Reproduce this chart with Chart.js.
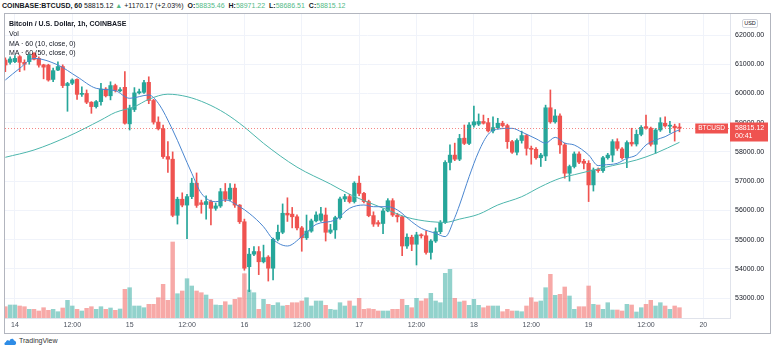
<!DOCTYPE html>
<html>
<head>
<meta charset="utf-8">
<script src="https://cdn.jsdelivr.net/npm/chart.js@4.4.1/dist/chart.umd.min.js"></script>
<style>
  html, body { margin: 0; padding: 0; background: #fff; }
  body { width: 775px; height: 353px; position: relative; overflow: hidden;
         font-family: 'Liberation Sans', Arial, sans-serif; color: #131722; }
  #header { position: absolute; left: 2px; top: 1px; font-size: 7px; line-height: 10px; white-space: nowrap; }
  #header .g { color: #53b987; }
  #header span { margin-right: 2px; }
  #frame { position: absolute; left: 4px; top: 13px; width: 765px; height: 319px; border: 1px solid #b2b5be; }
  #chart { position: absolute; left: 0; top: 0; }
  #legend { position: absolute; left: 4px; top: 5px; font-size: 7px; line-height: 9.8px; white-space: nowrap; pointer-events: none; }
  #usd { position: absolute; left: 737px; top: 5px; width: 14px; height: 7px; border: 1px solid #d1d4dc; border-radius: 2px;
         font-size: 5.5px; line-height: 7px; text-align: center; color: #131722; background: #fff; }
  #brand { position: absolute; left: 4px; top: 336px; font-size: 7px; line-height: 10px; color: #333; display: flex; align-items: center; }
  #brand svg { margin-right: 2px; }
</style>
</head>
<body>
<div id="header">
  <b>COINBASE:BTCUSD, 60</b>
  <span>58815.12</span><span class="g">▲</span><span>+1170.17 (+2.03%)</span>
  <b>O:</b><span class="g">58835.46</span>
  <b>H:</b><span class="g">58971.22</span>
  <b>L:</b><span class="g">58686.51</span>
  <b>C:</b><span class="g">58815.12</span>
</div>

<div id="frame">
  <canvas id="chart" width="765" height="319"></canvas>
  <div id="legend">
    <div><b>Bitcoin / U.S. Dollar, 1h, COINBASE</b></div>
    <div>Vol</div>
    <div>MA · 60 (10, close, 0)</div>
    <div>MA · 60 (50, close, 0)</div>
  </div>
  <div id="usd">USD</div>
</div>

<div id="brand">
  <svg width="13" height="9" viewBox="0 0 26 18"><path d="M3 16 C0 16 0 11 4 10 C4 6 9 5 11 8 C12 3 19 2 20 7 C25 7 26 16 21 16 Z" fill="#2e8ce6"/></svg>
  TradingView
</div>

<script>
// hourly candles, hour 0 = 14th 00:00
const firstHour = -2;

const opens = [
  61145, 61065, 61090, 61260, 61065, 61090, 61370, 61200, 60980, 60970,
  60480, 60800, 60920, 60270, 60350, 60480, 59970, 60000, 59700, 59550,
  59720, 60150, 59920, 60270, 60090, 60210, 58960, 59450, 60020, 60040,
  60380, 59760, 59020, 58790, 57840, 57750, 55830, 56380, 56180, 56470,
  56930, 56260, 56200, 56300, 56070, 56150, 56640, 56380, 56760, 56180,
  55610, 54070, 54500, 54590, 54240, 54400, 54020, 55010, 55250, 55900,
  55870, 55780, 55400, 55060, 55290, 55640, 55660, 55840, 55250, 55330,
  55750, 56390, 56470, 56300, 56930, 56580, 56300, 55820, 55580, 55550,
  55980, 56330, 55840, 55780, 54780, 55080, 54840, 55160, 55130, 54560,
  54950, 55270, 55580, 57640, 57890, 57750, 58470, 58290, 58920, 58950,
  59040, 59000, 58720, 58830, 58980, 58900, 58350, 57990, 58390, 58560,
  58120, 58090, 57800, 57860, 59510, 59030, 59230, 58240, 57270, 57500,
  57930, 57680, 57610, 56870, 57400, 57360, 57800, 57890, 58350, 58100,
  57800, 58330, 58270, 58600, 58860, 58810, 58260, 58750, 58980, 58880,
  58880, 58835.46
];
const highs = [
  61220, 61250, 61300, 61300, 61150, 61350, 61400, 61250, 61000, 61000,
  60870, 61080, 60980, 60380, 60500, 60500, 60230, 60120, 59720, 59760,
  60350, 60200, 60400, 60320, 60200, 60745, 59600, 60200, 60150, 60450,
  60570, 59800, 59200, 58920, 58350, 58000, 56450, 56600, 56550, 57100,
  57280, 56350, 56500, 56350, 56250, 56750, 56920, 56920, 56900, 56200,
  55700, 54700, 54760, 54760, 54810, 54450, 55050, 55500, 56220, 56430,
  56100, 55850, 55450, 55840, 55700, 55950, 56100, 56080, 55520, 55800,
  56450, 56550, 56550, 56980, 57170, 56620, 56350, 55950, 55650, 56050,
  56400, 56400, 55900, 55800, 55200, 55150, 55250, 55200, 55300, 55000,
  55400, 55650, 57700, 58240, 58300, 58600, 58920, 59000, 59570, 59300,
  59260, 59150, 59200, 59150, 59050, 58950, 58400, 58450, 58710, 58600,
  58200, 58150, 57950, 59600, 60120, 59450, 59300, 58300, 57550, 58000,
  58000, 57750, 57700, 57450, 57450, 57850, 57950, 58420, 58450, 58150,
  58380, 58810, 58750, 58900, 59260, 58850, 58800, 59170, 59200, 59050,
  58950, 58971.22
];
const lows = [
  60745, 61000, 61050, 60745, 60800, 61000, 61150, 60900, 60500, 60420,
  60400, 60780, 60200, 59390, 60300, 59800, 59900, 59650, 59320, 59500,
  59600, 59880, 59780, 60050, 60050, 58950, 58750, 59380, 59980, 60000,
  59650, 58950, 58750, 57780, 57300, 55780, 55530, 56120, 55030, 56400,
  56100, 55900, 55700, 55500, 56000, 56100, 56300, 56330, 56100, 55550,
  53950, 53220, 54450, 53800, 54200, 53580, 53620, 54950, 55200, 55620,
  55400, 55330, 54600, 55000, 55250, 55600, 55620, 54950, 55200, 55040,
  55700, 56300, 56250, 56250, 56500, 56250, 55780, 55450, 55450, 55200,
  55950, 55790, 55600, 54450, 54700, 54620, 54130, 55050, 54500, 54330,
  54900, 55200, 55550, 57380, 57700, 57700, 58250, 58250, 58850, 58900,
  58950, 58680, 58650, 58780, 58850, 58120, 57950, 57900, 58300, 57890,
  57580, 57750, 57500, 57700, 58980, 58980, 57950, 57100, 57000, 57450,
  57600, 57420, 56300, 56660, 57300, 57300, 57750, 57660, 58050, 57750,
  57460, 58200, 58200, 58550, 58780, 58200, 57950, 58700, 58850, 58650,
  58370, 58686.51
];
const closes = [
  60973, 61180, 61200, 61065, 61000, 61300, 61170, 60970, 60900, 60460,
  60780, 60920, 60270, 60340, 60460, 59970, 60000, 59700, 59550, 59720,
  60150, 59920, 60270, 60100, 60130, 58980, 59500, 60020, 60060, 60370,
  59760, 59020, 58790, 57840, 57750, 55830, 56380, 56180, 56470, 56930,
  56170, 56200, 56300, 56070, 56150, 56640, 56380, 56760, 56180, 55610,
  54020, 54500, 54590, 54240, 54380, 54020, 55010, 55250, 55900, 55840,
  55780, 55400, 55060, 55290, 55640, 55840, 55880, 55250, 55330, 55750,
  56390, 56470, 56300, 56930, 56580, 56300, 55820, 55530, 55530, 55980,
  56330, 55840, 55780, 54780, 55080, 54840, 55160, 55130, 54560, 54950,
  55270, 55580, 57640, 57890, 57750, 58460, 58290, 58920, 59030, 59040,
  58980, 58720, 58830, 58980, 58900, 58350, 57990, 58390, 58560, 58120,
  58090, 57800, 57890, 59510, 59030, 59230, 58240, 57270, 57500, 57930,
  57650, 57610, 56870, 57380, 57360, 57800, 57890, 58350, 58120, 57800,
  58320, 58270, 58600, 58840, 58830, 58260, 58750, 59000, 58890, 58900,
  58820, 58815.12
];
const volumes = [
  565, 650, 650, 600, 565, 435, 435, 350, 515, 385,
  435, 315, 500, 885, 600, 435, 350, 485, 565, 435,
  565, 435, 500, 385, 450, 1435, 1515, 600, 600, 515,
  685, 685, 1015, 1685, 885, 3800, 1215, 1350, 1965, 1600,
  1350, 1265, 1150, 935, 650, 635, 815, 650, 935, 1015,
  2215, 1400, 1265, 435, 935, 685, 635, 765, 600, 635,
  765, 765, 850, 1015, 600, 850, 850, 635, 435, 400,
  765, 600, 850, 600, 985, 435, 465, 435, 350, 350,
  350, 435, 435, 935, 635, 515, 985, 850, 965, 1235,
  850, 765, 2235, 2435, 985, 800, 850, 635, 935, 635,
  515, 600, 600, 600, 315, 435, 350, 350, 315, 600,
  1015, 800, 850, 1515, 2185, 1135, 1185, 1550, 1100, 435,
  565, 565, 1600, 685, 650, 435, 765, 400, 400, 350,
  685, 650, 300, 515, 685, 885, 600, 765, 600, 435,
  600, 515
];

// moving averages
const ma10Hours = [-2, 1, 4, 9, 13, 17, 21, 24, 28, 30, 33, 37, 39, 42, 44, 47, 49, 52, 54, 57,
  60, 63, 67, 70, 73, 75, 78, 80, 83, 85, 88, 90, 92, 93, 95, 97, 99, 101, 104, 106,
  109, 111, 113, 115, 117, 120, 122, 123, 126, 128, 130, 132, 134, 136, 138, 139];
const ma10Values = [60460, 60860, 61200, 60973, 60573, 60176, 60095, 59834, 59947, 59663, 58749, 57268, 56583, 56296, 56354, 56125, 55900, 55440, 55009, 54780,
  55100, 55520, 55669, 56070, 56183, 56125, 56125, 56012, 55612, 55385, 55214, 55100, 55750, 56183, 57150, 58008, 58603, 58783, 58807, 58680,
  58450, 58300, 58500, 58300, 58236, 57894, 57530, 57551, 57610, 57780, 57894, 58236, 58407, 58520, 58692, 58750];
const ma50Hours = [-2, 4, 11, 18, 21, 25, 28, 32, 36, 40, 44, 48, 52, 59, 66, 70, 78, 82, 87, 90,
  93, 97, 101, 106, 110, 114, 117, 121, 125, 130, 134, 139];
const ma50Values = [57815, 58065, 58520, 59090, 59350, 59547, 59800, 59975, 59890, 59663, 59320, 58850, 58294, 57480, 56900, 56550, 56012, 55760, 55612, 55590,
  55700, 55866, 56183, 56467, 56810, 57096, 57220, 57380, 57530, 57722, 57952, 58328];

const priceTicks = [53000, 54000, 55000, 56000, 57000, 58000, 59000, 60000, 61000, 62000];
const timeTickHours = [0, 12, 24, 36, 48, 60, 72, 84, 96, 108, 120, 132, 144];
const timeTickLabels = ['14', '12:00', '15', '12:00', '16', '12:00', '17', '12:00', '18', '12:00', '19', '12:00', '20'];
const countdown = '00:41';

const upColor = '#26a69a';
const downColor = '#ef5350';

const hours = opens.map((_, i) => firstHour + i);
const isUp = closes.map((c, i) => c >= opens[i]);
const candleColors = isUp.map(u => u ? upColor : downColor);
const volColors = isUp.map(u => u ? 'rgba(38,166,154,0.5)' : 'rgba(239,83,80,0.5)');

Chart.defaults.font.family = "'Liberation Sans', Arial, sans-serif";

const lastPricePlugin = {
    id: 'lastPrice',
    afterDatasetsDraw(chart) {
        const { ctx, chartArea } = chart;
        const y = chart.scales.y;
        const price = closes[closes.length - 1];
        const py = Math.round(y.getPixelForValue(price)) + 0.5;
        ctx.save();
        // dotted price line
        ctx.strokeStyle = 'rgba(239,83,80,0.7)';
        ctx.lineWidth = 1;
        ctx.setLineDash([1, 2]);
        ctx.beginPath();
        ctx.moveTo(chartArea.left, py);
        ctx.lineTo(chartArea.right, py);
        ctx.stroke();
        ctx.setLineDash([]);
        // price box on the scale
        ctx.fillStyle = downColor;
        ctx.fillRect(chartArea.right, py - 6, 38, 19);
        ctx.fillStyle = '#fff';
        ctx.font = "7px 'Liberation Sans', Arial, sans-serif";
        ctx.textBaseline = 'middle';
        ctx.textAlign = 'left';
        ctx.fillText(price.toFixed(2), chartArea.right + 5, py);
        ctx.fillText(countdown, chartArea.right + 5, py + 8);
        // symbol tag
        ctx.font = "6.5px 'Liberation Sans', Arial, sans-serif";
        const tw = ctx.measureText('BTCUSD').width + 6;
        ctx.fillStyle = downColor;
        ctx.fillRect(chartArea.right - 2 - tw, py - 5, tw, 10);
        ctx.fillStyle = '#fff';
        ctx.fillText('BTCUSD', chartArea.right - 2 - tw + 3, py);
        ctx.restore();
    }
};

const ctx = document.getElementById('chart').getContext('2d');
new Chart(ctx, {
    type: 'bar',
    data: {
        datasets: [
            {
                type: 'line',
                label: 'MA 10',
                data: ma10Hours.map((h, i) => ({ x: h, y: ma10Values[i] })),
                borderColor: '#4a86d0',
                borderWidth: 1,
                pointRadius: 0,
                cubicInterpolationMode: 'monotone',
                yAxisID: 'y',
                order: 0
            },
            {
                type: 'line',
                label: 'MA 50',
                data: ma50Hours.map((h, i) => ({ x: h, y: ma50Values[i] })),
                borderColor: '#4db6ac',
                borderWidth: 1,
                pointRadius: 0,
                cubicInterpolationMode: 'monotone',
                yAxisID: 'y',
                order: 0
            },
            {
                label: 'Body',
                data: hours.map((h, i) => ({ x: h, y: [opens[i], closes[i]] })),
                backgroundColor: candleColors,
                barThickness: 3.6,
                minBarLength: 1,
                grouped: false,
                yAxisID: 'y',
                order: 1
            },
            {
                label: 'Wick',
                data: hours.map((h, i) => ({ x: h, y: [lows[i], highs[i]] })),
                backgroundColor: candleColors,
                barThickness: 1,
                grouped: false,
                yAxisID: 'y',
                order: 2
            },
            {
                label: 'Vol',
                data: hours.map((h, i) => ({ x: h, y: volumes[i] })),
                backgroundColor: volColors,
                barThickness: 3.8,
                grouped: false,
                yAxisID: 'vol',
                order: 3
            }
        ]
    },
    options: {
        responsive: false,
        animation: false,
        events: [],
        layout: { padding: 0 },
        plugins: {
            legend: { display: false },
            tooltip: { enabled: false }
        },
        scales: {
            x: {
                type: 'linear',
                min: -2.07,
                max: 149.57,
                offset: false,
                grid: { color: '#f0f3fa', offset: false, drawTicks: false },
                border: { color: '#e0e3eb' },
                ticks: {
                    autoSkip: false,
                    maxRotation: 0,
                    padding: 3,
                    color: '#4c525e',
                    font: { size: 7 },
                    callback: (v, i) => timeTickLabels[i]
                },
                afterBuildTicks: s => { s.ticks = timeTickHours.map(v => ({ value: v })); },
                afterFit: s => { s.height = 15; s.paddingLeft = 0; s.paddingRight = 0; }
            },
            y: {
                type: 'linear',
                position: 'right',
                min: 52316,
                max: 62719,
                grid: { color: '#f0f3fa', drawTicks: false },
                border: { color: '#e0e3eb' },
                ticks: {
                    padding: 5,
                    color: '#131722',
                    font: { size: 7 },
                    callback: v => v.toFixed(2)
                },
                afterBuildTicks: s => { s.ticks = priceTicks.map(v => ({ value: v })); },
                afterFit: s => { s.width = 40; s.paddingTop = 0; s.paddingBottom = 0; }
            },
            vol: {
                type: 'linear',
                display: false,
                min: 0,
                max: 15200
            }
        }
    },
    plugins: [lastPricePlugin]
});
</script>
</body>
</html>
